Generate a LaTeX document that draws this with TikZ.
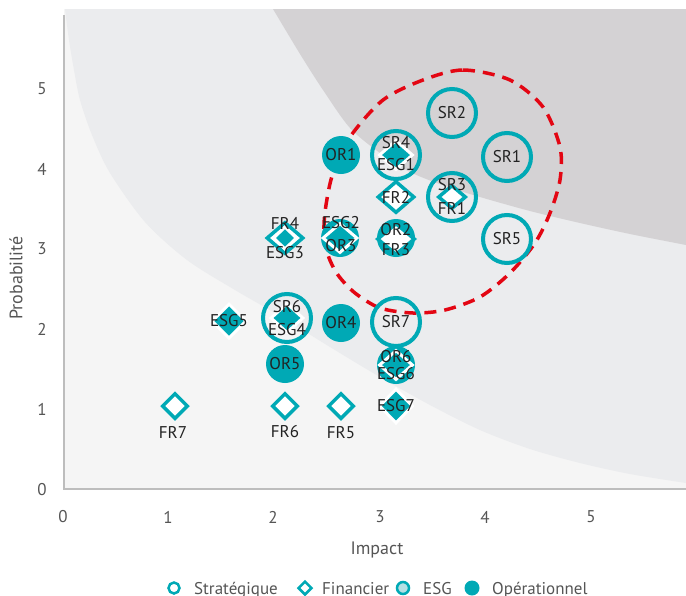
\documentclass[tikz,border=0pt]{standalone}
\usepackage{fontspec}
\setmainfont{PT Sans}
\usetikzlibrary{shapes.geometric}
\definecolor{teal0}{HTML}{00A9B5}
\definecolor{bgA}{HTML}{F5F5F5}
\definecolor{bgB}{HTML}{EBECEE}
\definecolor{bgC}{HTML}{D4D2D4}
\definecolor{redd}{HTML}{E30613}
\definecolor{esgl}{HTML}{B5E0E4}
\definecolor{txt}{HTML}{222222}
\definecolor{axt}{HTML}{555555}
\definecolor{axl}{HTML}{BDBDBD}
\begin{document}
\begin{tikzpicture}[x=1pt,y=-1pt,
  srmark/.style={circle,draw=teal0,line width=4pt,minimum size=48pt,inner sep=0pt},
  ormark/.style={circle,fill=teal0,minimum size=38pt,inner sep=0pt},
  frmark/.style 2 args={diamond,draw=teal0,fill=white,line width=3.5pt,inner sep=0pt,minimum width=#1,minimum height=#2},
  esgmark/.style 2 args={diamond,draw=white,fill=teal0,line width=3pt,inner sep=0pt,minimum width=#1,minimum height=#2},
  lbl/.style={text=txt,font=\fontsize{17}{19}\selectfont,inner sep=0pt},
  axlbl/.style={text=axt,font=\fontsize{17}{19}\selectfont,inner sep=0pt},
  axtitle/.style={text=axt,font=\fontsize{18}{20}\selectfont,inner sep=0pt},
  lgt/.style={text=axt,font=\fontsize{17}{19}\selectfont,inner sep=0pt,anchor=base west},
  riskzone/.style={draw=redd,line width=3.5pt,dash pattern=on 12pt off 8pt}
]
\useasboundingbox (0,0) rectangle (686,595);
\clip (0,0) rectangle (686,595);
% backgrounds
\fill[bgA] (64,9) rectangle (686,489);
\fill[bgB] plot[smooth] coordinates {(65,9) (69,40) (74,70) (80,100) (92,135) (110,173) (145,222) (187,260) (235,290) (280,316) (330,347) (380,377) (430,405) (480,430) (530,449) (580,463) (630,474) (686,483)} -- (686,9) -- cycle;
\fill[bgC] plot[smooth] coordinates {(273,9) (300,54) (323,90) (350,128) (380,153) (410,172) (445,186) (480,197) (530,211) (580,223) (630,234) (686,245)} -- (686,9) -- cycle;
% axes
\coordinate (ytop) at (64,15);
\coordinate (orig) at (64,489);
\coordinate (xend) at (686,489);
\draw[axl,line width=1.2pt] (ytop) -- (orig) -- (xend);
% dashed zone
\draw[riskzone] plot[smooth cycle] coordinates {(423,80) (463,70) (510,80) (543,107) (560,147) (560,180) (550,213) (535,243) (510,273) (480,297) (445,310) (413,313) (380,308) (355,293) (338,275) (328,255) (324,230) (326,205) (333,173) (350,137) (383,100)};
% strategic circles
\node[srmark] (SR1) at (507,157) {};
\node[srmark] (SR2) at (452,113) {};
\node[srmark] (SR3) at (452,197) {};
\node[srmark] (SR4) at (396,155) {};
\node[srmark] (SR5) at (507,239) {};
\node[srmark] (SR6) at (287,318) {};
\node[srmark] (SR7) at (396,322) {};
% operational circles
\node[ormark] (OR1) at (341,155) {};
\node[ormark] (OR2) at (396,238) {};
\node[ormark] (OR3) at (340,238) {};
\node[ormark] (OR4) at (341,323) {};
\node[ormark] (OR5) at (285,364) {};
\node[ormark] (OR6) at (396,365) {};
% financial diamonds
\node[frmark={28}{24}] (FR1) at (452,197) {};
\node[frmark={37}{32}] (FR2) at (396,197) {};
\node[frmark={38}{32}] (FR3) at (396,239) {};
\node[frmark={37}{32}] (FR4) at (285,238) {};
\node[frmark={26}{26}] (FR5) at (341,406) {};
\node[frmark={26}{26}] (FR6) at (285,406) {};
\node[frmark={26}{26}] (FR7) at (175,406) {};
% ESG diamonds
\node[esgmark={34}{30}] (ESG1) at (396,155) {};
\node[esgmark={35}{30}] (ESG2) at (340,238) {};
\node[esgmark={24}{23}] (ESG3) at (285,238) {};
\node[esgmark={33}{30}] (ESG4) at (287,318) {};
\node[esgmark={35}{35}] (ESG5) at (229,321) {};
\node[esgmark={34}{30}] (ESG6) at (396,365) {};
\node[esgmark={34}{35}] (ESG7) at (396,406) {};
% labels
\node[lbl] (tSR1) at (507,157) {SR1};
\node[lbl] (tSR2) at (452,113) {SR2};
\node[lbl] (tSR3) at (452,185) {SR3};
\node[lbl] (tFR1) at (452,208) {FR1};
\node[lbl] (tSR4) at (396,143) {SR4};
\node[lbl] (tESG1) at (396,165) {ESG1};
\node[lbl] (tSR5) at (507,239) {SR5};
\node[lbl] (tOR1) at (341,155) {OR1};
\node[lbl] (tFR2) at (396,197) {FR2};
\node[lbl] (tOR2) at (396,230) {OR2};
\node[lbl] (tFR3) at (396,250) {FR3};
\node[lbl] (tESG2) at (341,223) {ESG2};
\node[lbl] (tOR3) at (341,246) {OR3};
\node[lbl] (tFR4) at (285,223) {FR4};
\node[lbl] (tESG3) at (285,253) {ESG3};
\node[lbl] (tSR6) at (287,307) {SR6};
\node[lbl] (tESG4) at (287,330) {ESG4};
\node[lbl] (tESG5) at (229,321) {ESG5};
\node[lbl] (tOR4) at (341,323) {OR4};
\node[lbl] (tSR7) at (396,322) {SR7};
\node[lbl] (tOR5) at (285,364) {OR5};
\node[lbl] (tOR6) at (396,357) {OR6};
\node[lbl] (tESG6) at (396,374) {ESG6};
\node[lbl] (tESG7) at (396,406) {ESG7};
\node[lbl] (tFR5) at (341,433) {FR5};
\node[lbl] (tFR6) at (285,432) {FR6};
\node[lbl] (tFR7) at (173,432) {FR7};
% ticks
\node[axlbl] (y0) at (42,490) {0};
\node[axlbl] (y1) at (42,409) {1};
\node[axlbl] (y2) at (42,329) {2};
\node[axlbl] (y3) at (42,249) {3};
\node[axlbl] (y4) at (42,169) {4};
\node[axlbl] (y5) at (42,89) {5};
\node[axlbl] (x0) at (63,517) {0};
\node[axlbl] (x1) at (168,517) {1};
\node[axlbl] (x2) at (273,517) {2};
\node[axlbl] (x3) at (380,517) {3};
\node[axlbl] (x4) at (485,517) {4};
\node[axlbl] (x5) at (591,517) {5};
\node[axtitle,anchor=base] (xt) at (377,554) {Impact};
\node[axtitle,rotate=90] (yt) at (16,278) {Probabilité};
% legend
\node[circle,draw=teal0,line width=2.5pt,minimum size=11pt,inner sep=0pt] (lS) at (174,588) {};
\node[lgt] (lSt) at (194,594) {Stratégique};
\node[diamond,draw=teal0,fill=white,line width=2.5pt,minimum width=14pt,minimum height=14pt,inner sep=0pt] (lF) at (305,588) {};
\node[lgt] (lFt) at (322,594) {Financier};
\node[circle,draw=teal0,fill=esgl,line width=2.5pt,minimum size=12pt,inner sep=0pt] (lE) at (403,588) {};
\node[lgt] (lEt) at (423,594) {ESG};
\node[circle,fill=teal0,minimum size=15pt,inner sep=0pt] (lO) at (472,588) {};
\node[lgt] (lOt) at (492,594) {Opérationnel};
\end{tikzpicture}
\end{document}
